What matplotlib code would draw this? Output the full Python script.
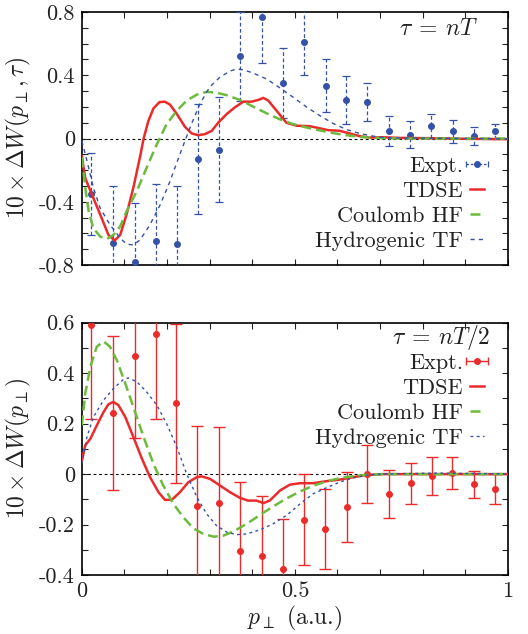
import matplotlib
matplotlib.use('Agg')
import matplotlib.pyplot as plt
from matplotlib.ticker import FixedFormatter, FixedLocator

plt.rcParams['font.family'] = 'serif'
plt.rcParams['font.serif'] = ['cmr10', 'DejaVu Serif']
plt.rcParams['mathtext.fontset'] = 'cm'
plt.rcParams['axes.unicode_minus'] = False
plt.rcParams['axes.formatter.use_mathtext'] = True

# ---- top panel: tau = nT ----
top_px = [0.021, 0.074, 0.125, 0.173, 0.223, 0.272, 0.323, 0.372, 0.422, 0.471,
          0.521, 0.572, 0.621, 0.670, 0.720, 0.770, 0.820, 0.870, 0.920, 0.970]
top_expt = [-0.35, -0.66, -0.78, -0.65, -0.67, -0.13, -0.07, 0.52, 0.77, 0.35,
            0.61, 0.335, 0.245, 0.23, 0.05, 0.025, 0.08, 0.045, 0.015, 0.045]
top_err = [0.26, 0.36, 0.37, 0.36, 0.37, 0.35, 0.33, 0.28, 0.29, 0.22,
           0.21, 0.165, 0.15, 0.12, 0.095, 0.085, 0.075, 0.075, 0.055, 0.045]

top_tdse_p = [0, 0.008, 0.023, 0.043, 0.0625, 0.077, 0.09, 0.105, 0.121, 0.137,
              0.145, 0.156, 0.168, 0.182, 0.195, 0.207, 0.223, 0.242, 0.258, 0.273,
              0.289, 0.305, 0.320, 0.340, 0.359, 0.379, 0.398, 0.414, 0.426, 0.4375,
              0.457, 0.480, 0.504, 0.535, 0.559, 0.578, 0.605, 0.629, 0.652, 0.676,
              0.707, 0.746, 0.824, 0.902, 1.0]
top_tdse = [-0.11, -0.25, -0.35, -0.48, -0.61, -0.645, -0.61, -0.48, -0.31, -0.11,
            0.0, 0.11, 0.19, 0.23, 0.233, 0.214, 0.155, 0.074, 0.032, 0.021,
            0.028, 0.049, 0.10, 0.155, 0.197, 0.233, 0.233, 0.244, 0.257, 0.24,
            0.176, 0.10, 0.081, 0.078, 0.064, 0.053, 0.049, 0.032, 0.015, 0.006,
            0.008, 0.004, 0.002, -0.002, -0.004]

top_hf_p = [0, 0.008, 0.016, 0.027, 0.043, 0.059, 0.074, 0.09, 0.105, 0.129,
            0.152, 0.176, 0.199, 0.223, 0.246, 0.27, 0.293, 0.316, 0.34, 0.371,
            0.402, 0.434, 0.465, 0.496, 0.527, 0.559, 0.59, 0.621, 0.652, 0.684,
            0.746, 1.0]
top_hf = [-0.12, -0.31, -0.46, -0.567, -0.62, -0.635, -0.61, -0.556, -0.46, -0.333,
          -0.185, -0.036, 0.091, 0.176, 0.24, 0.278, 0.295, 0.29, 0.274, 0.244,
          0.202, 0.159, 0.121, 0.091, 0.07, 0.051, 0.034, 0.021, 0.011, 0.004,
          0.0, 0.0]

top_tf_p = [0, 0.012, 0.027, 0.043, 0.066, 0.09, 0.105, 0.121, 0.137, 0.16,
            0.184, 0.207, 0.23, 0.254, 0.277, 0.30, 0.324, 0.348, 0.363, 0.379,
            0.402, 0.434, 0.465, 0.496, 0.527, 0.559, 0.59, 0.621, 0.652, 0.684,
            0.715, 1.0]
top_tf = [-0.015, -0.14, -0.31, -0.44, -0.545, -0.63, -0.668, -0.673, -0.64, -0.545,
          -0.418, -0.27, -0.10, 0.07, 0.219, 0.325, 0.388, 0.427, 0.44, 0.435,
          0.414, 0.376, 0.32, 0.261, 0.20, 0.144, 0.095, 0.057, 0.032, 0.015,
          0.004, -0.002]

# ---- bottom panel: tau = nT/2 ----
bot_px = [0.021, 0.074, 0.125, 0.173, 0.221, 0.271, 0.323, 0.371, 0.423, 0.471,
          0.522, 0.571, 0.623, 0.670, 0.721, 0.772, 0.821, 0.869, 0.920, 0.970]
bot_expt = [0.59, 0.242, 0.47, 0.554, 0.281, -0.126, -0.113, -0.303, -0.325, -0.377,
            -0.18, -0.218, -0.131, -0.001, -0.078, -0.037, -0.008, 0.004, -0.04, -0.058]
bot_err = [0.37, 0.305, 0.325, 0.335, 0.315, 0.316, 0.30, 0.27, 0.24, 0.20,
           0.18, 0.16, 0.14, 0.115, 0.094, 0.082, 0.075, 0.063, 0.053, 0.06]

bot_tdse_p = [0, 0.008, 0.02, 0.035, 0.051, 0.0625, 0.074, 0.086, 0.102, 0.121,
              0.141, 0.16, 0.18, 0.195, 0.211, 0.23, 0.25, 0.27, 0.281, 0.301,
              0.324, 0.348, 0.371, 0.39, 0.41, 0.426, 0.441, 0.465, 0.488, 0.512,
              0.543, 0.574, 0.605, 0.637, 0.668, 0.707, 1.0]
bot_tdse = [0.052, 0.114, 0.14, 0.193, 0.246, 0.277, 0.286, 0.273, 0.226, 0.147,
            0.061, -0.012, -0.072, -0.102, -0.102, -0.072, -0.032, -0.012, -0.009, -0.019,
            -0.045, -0.072, -0.094, -0.105, -0.105, -0.115, -0.105, -0.065, -0.042, -0.036,
            -0.036, -0.028, -0.022, -0.012, -0.004, 0.0, 0.0]

bot_hf_p = [0, 0.008, 0.02, 0.035, 0.051, 0.066, 0.082, 0.102, 0.121, 0.145,
            0.168, 0.191, 0.215, 0.238, 0.262, 0.285, 0.309, 0.332, 0.355, 0.387,
            0.418, 0.449, 0.48, 0.512, 0.543, 0.574, 0.605, 0.637, 0.668, 0.707, 1.0]
bot_hf = [0.193, 0.319, 0.425, 0.505, 0.526, 0.505, 0.452, 0.359, 0.266, 0.147,
          0.041, -0.045, -0.118, -0.171, -0.215, -0.237, -0.248, -0.244, -0.228, -0.197,
          -0.162, -0.128, -0.097, -0.069, -0.046, -0.029, -0.016, -0.008, -0.003, 0.0, 0.0]

bot_tf_p = [0, 0.012, 0.027, 0.051, 0.074, 0.098, 0.109, 0.129, 0.152, 0.176,
            0.199, 0.223, 0.246, 0.27, 0.293, 0.316, 0.34, 0.363, 0.387, 0.418,
            0.449, 0.48, 0.512, 0.543, 0.574, 0.605, 0.637, 0.668, 0.699, 0.824, 1.0]
bot_tf = [0.041, 0.147, 0.226, 0.293, 0.339, 0.376, 0.381, 0.366, 0.326, 0.273,
          0.20, 0.107, 0.001, -0.091, -0.158, -0.204, -0.23, -0.24, -0.237, -0.221,
          -0.197, -0.164, -0.118, -0.078, -0.054, -0.032, -0.015, -0.004, 0.0, 0.004, 0.001]

red = '#ec2a2a'
green = '#6cbb3c'
blue = '#3552a8'
ink = '#222222'
nan = float('nan')

fig = plt.figure(figsize=(5.28, 6.34), dpi=100)
ax1 = fig.add_axes([0.155, 0.582, 0.807, 0.399])
ax2 = fig.add_axes([0.155, 0.093, 0.807, 0.398])


def style_axes(ax, ylim, yticks, ylabels, show_x):
    ax.set_xlim(0, 1)
    ax.xaxis.set_major_locator(FixedLocator([i / 10 for i in range(11)]))
    if show_x:
        ax.xaxis.set_major_formatter(FixedFormatter(
            ['0', '', '', '', '', '0.5', '', '', '', '', '1']))
    else:
        ax.set_xticklabels([])
    n = int(round((ylim[1] - ylim[0]) / 0.1))
    locs = [round(ylim[0] + 0.1 * i, 2) for i in range(n + 1)]
    ax.set_yticks(locs)
    ax.set_yticklabels([ylabels[yticks.index(v)] if v in yticks else '' for v in locs])
    ax.set_ylim(*ylim)
    ax.tick_params(direction='in', top=True, right=True, length=4, width=0.8,
                   labelsize=16, colors=ink, pad=5)
    for s in ax.spines.values():
        s.set_linewidth(1.2)
    ax.axhline(0, color='black', lw=0.8, ls=(0, (2.5, 2.5)), zorder=1)


def add_legend(ax, expt_proxy, anchor, loc):
    h, l = ax.get_legend_handles_labels()
    handles = [expt_proxy] + [h[l.index(k)] for k in ['TDSE', 'Coulomb HF', 'Hydrogenic TF']]
    labels = ['Expt.', 'TDSE', 'Coulomb HF', 'Hydrogenic TF']
    ax.legend(handles, labels, loc=loc, bbox_to_anchor=anchor, frameon=False,
              markerfirst=False, fontsize=16, handlelength=0.65, handletextpad=0.3,
              labelspacing=0.25, borderaxespad=0.0, labelcolor=ink)


# top panel
eb = ax1.errorbar(top_px, top_expt, yerr=top_err, fmt='o', ms=4, color=blue,
                  elinewidth=0.9, capsize=3, capthick=0.9, zorder=3)
eb[2][0].set_linestyle((0, (3, 2)))
proxy1 = ax1.errorbar([nan], [nan], xerr=[0.1], fmt='o', ms=4, color=blue,
                      elinewidth=0.9, capsize=2, capthick=0.9)
proxy1[2][0].set_linestyle((0, (2, 1.5)))
ax1.plot(top_tdse_p, top_tdse, color=red, lw=1.8, label='TDSE', zorder=4)
ax1.plot(top_hf_p, top_hf, color=green, lw=1.8, ls=(0, (4, 2)), label='Coulomb HF', zorder=4)
ax1.plot(top_tf_p, top_tf, color=blue, lw=1.0, ls=(0, (3, 3)), label='Hydrogenic TF', zorder=4)
style_axes(ax1, (-0.8, 0.8), [-0.8, -0.4, 0.0, 0.4, 0.8],
           ['-0.8', '-0.4', '0', '0.4', '0.8'], False)
ax1.set_ylabel(r'$10\times\Delta W(p_\perp,\tau)$', fontsize=17, color=ink)
ax1.text(0.93, 0.935, r'$\tau\:=\:nT$', transform=ax1.transAxes, ha='right', va='center',
         fontsize=17, color=ink)
add_legend(ax1, proxy1, (0.965, 0.02), 'lower right')

# bottom panel
ax2.errorbar(bot_px, bot_expt, yerr=bot_err, fmt='o', ms=4, color=red,
             elinewidth=1.0, capsize=4, capthick=1.0, zorder=3)
proxy2 = ax2.errorbar([nan], [nan], xerr=[0.1], fmt='o', ms=4, color=red,
                      elinewidth=1.0, capsize=3, capthick=1.0)
ax2.plot(bot_tdse_p, bot_tdse, color=red, lw=1.8, label='TDSE', zorder=4)
ax2.plot(bot_hf_p, bot_hf, color=green, lw=1.8, ls=(0, (4, 2)), label='Coulomb HF', zorder=4)
ax2.plot(bot_tf_p, bot_tf, color=blue, lw=1.0, ls=(0, (2, 2.5)), label='Hydrogenic TF', zorder=4)
style_axes(ax2, (-0.4, 0.6), [-0.4, -0.2, 0.0, 0.2, 0.4, 0.6],
           ['-0.4', '-0.2', '0', '0.2', '0.4', '0.6'], True)
ax2.set_ylabel(r'$10\times\Delta W(p_\perp)$', fontsize=17, color=ink)
ax2.set_xlabel(r'$p_\perp$ (a.u.)', fontsize=17, color=ink, labelpad=2)
ax2.text(0.96, 0.94, r'$\tau\:=\:nT/2$', transform=ax2.transAxes, ha='right', va='center',
         fontsize=17, color=ink)
add_legend(ax2, proxy2, (0.965, 0.915), 'upper right')

fig.savefig('out.png', dpi=100)
